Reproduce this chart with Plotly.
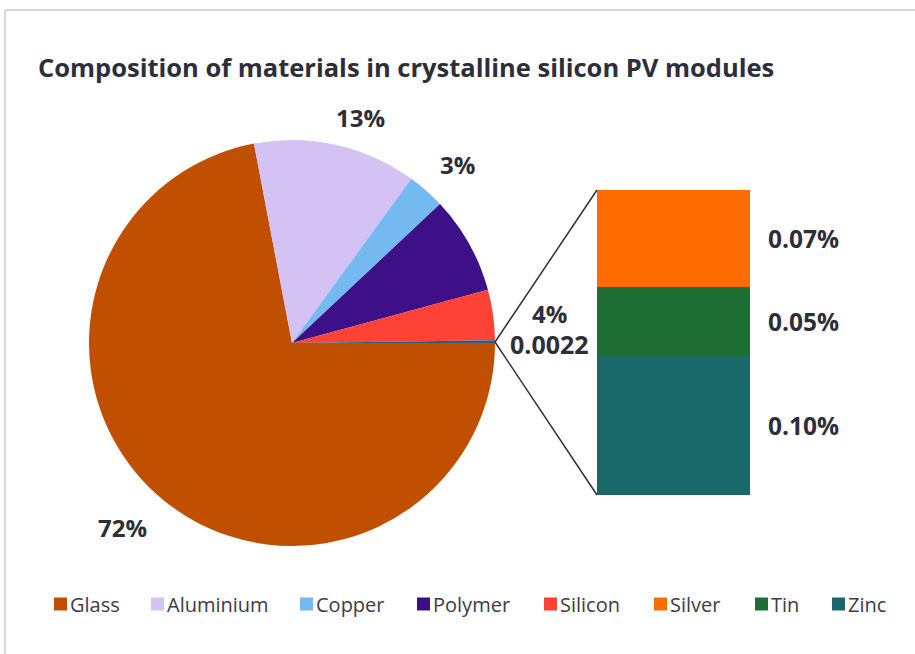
import plotly.graph_objects as go

# ---------------- data ----------------
pie_labels = ["Glass", "Aluminium", "Copper", "Polymer", "Silicon", "Other metals"]
pie_values = [72.0, 13.0, 3.0, 7.78, 4.0, 0.22]
pie_text = ["72%", "13%", "3%", "", "4%", "0.0022"]

bar_labels = ["Zinc", "Tin", "Silver"]          # bottom -> top
bar_values = [0.10, 0.05, 0.07]
bar_text = ["0.10%", "0.05%", "0.07%"]

legend_labels = ["Glass", "Aluminium", "Copper", "Polymer", "Silicon", "Silver", "Tin", "Zinc"]

title_text = "Composition of materials in crystalline silicon PV modules"

# ---------------- style ----------------
W, H = 915, 654
colors = {
    "Glass": "#C05000",
    "Aluminium": "#D5C2F5",
    "Copper": "#74B9F0",
    "Polymer": "#3D1087",
    "Silicon": "#FF4136",
    "Other metals": "#2B5D7E",
    "Silver": "#FF6D00",
    "Tin": "#1E6E35",
    "Zinc": "#1A6869",
}
TXT = "#2E2E38"
FONT = "Open Sans"


def px(x):
    return x / W


def py(y):
    return 1 - y / H


fig = go.Figure()

# pie (centre 292,343 radius 203 px)
cx, cy, r = 292, 343, 203
fig.add_trace(go.Pie(
    labels=pie_labels, values=pie_values,
    sort=False, direction="clockwise", rotation=90,
    marker=dict(colors=[colors[l] for l in pie_labels], line=dict(width=0)),
    textinfo="none", showlegend=False, hoverinfo="label+percent",
    domain=dict(x=[px(cx - r), px(cx + r)], y=[py(cy + r), py(cy - r)]),
))

# stacked bar (of-pie)
bx0, bx1, by0, by1 = 597, 750, 190, 495
for lab, val in zip(bar_labels, bar_values):
    fig.add_trace(go.Bar(
        x=["m"], y=[val], name=lab, width=1,
        marker=dict(color=colors[lab], line=dict(width=0)),
        showlegend=False, hoverinfo="name+y",
    ))

fig.update_layout(
    width=W, height=H, autosize=False,
    margin=dict(l=0, r=0, t=0, b=0),
    paper_bgcolor="white", plot_bgcolor="rgba(0,0,0,0)",
    barmode="stack", bargap=0,
    xaxis=dict(domain=[px(bx0), px(bx1)], range=[-0.5, 0.5], visible=False, fixedrange=True),
    yaxis=dict(domain=[py(by1), py(by0)], range=[0, sum(bar_values)], visible=False, fixedrange=True),
    font=dict(family=FONT, color=TXT),
)

annotations = []
shapes = []

# title
annotations.append(dict(
    text=f"<b>{title_text}</b>", x=px(36), y=py(67), xref="paper", yref="paper",
    xanchor="left", yanchor="middle", showarrow=False,
    font=dict(family=FONT, size=25.5, color=TXT),
))

# pie labels
pie_label_pos = [(122, 527), (360, 117), (458, 165), None, (549, 313), (549, 344)]
pie_label_size = [24, 24, 24, 24, 24, 25]
for t, pos, sz in zip(pie_text, pie_label_pos, pie_label_size):
    if not t or pos is None:
        continue
    annotations.append(dict(
        text=f"<b>{t}</b>", x=px(pos[0]), y=py(pos[1]), xref="paper", yref="paper",
        xanchor="center", yanchor="middle", showarrow=False,
        font=dict(family=FONT, size=sz, color=TXT),
    ))

# bar labels (data coords on y)
cum = 0
for t, v in zip(bar_text, bar_values):
    mid = cum + v / 2
    cum += v
    annotations.append(dict(
        text=f"<b>{t}</b>", x=px(766), y=mid, xref="paper", yref="y",
        xanchor="left", yanchor="middle", showarrow=False,
        font=dict(family=FONT, size=24.5, color=TXT),
    ))

# connector lines
for (x1, y1) in [(bx0, by0), (bx0, by1)]:
    shapes.append(dict(
        type="line", xref="paper", yref="paper",
        x0=px(cx + r), y0=py(cy - 1), x1=px(x1), y1=py(y1),
        line=dict(color=TXT, width=1.5),
    ))

# outer frame (top and left edges)
shapes.append(dict(type="line", xref="paper", yref="paper", x0=px(5), y0=py(10), x1=1.0, y1=py(10),
                   line=dict(color="#D8D8DF", width=2)))
shapes.append(dict(type="line", xref="paper", yref="paper", x0=px(5), y0=py(10), x1=px(5), y1=0.0,
                   line=dict(color="#D8D8DF", width=2)))

# manual legend
legend_x = [54, 151, 300, 417, 544, 654, 755, 832]
ly = 604
for lab, lx in zip(legend_labels, legend_x):
    shapes.append(dict(
        type="rect", xref="paper", yref="paper",
        x0=px(lx), x1=px(lx + 13), y0=py(ly + 6.5), y1=py(ly - 6.5),
        fillcolor=colors[lab], line=dict(width=0),
    ))
    annotations.append(dict(
        text=lab, x=px(lx + 14), y=py(ly), xref="paper", yref="paper",
        xanchor="left", yanchor="middle", showarrow=False,
        font=dict(family=FONT, size=20, color="#3C3C46"),
    ))

fig.update_layout(annotations=annotations, shapes=shapes)
fig.write_html(
    "out.html",
    config={"displayModeBar": False},
    post_script="document.body.style.margin='0';document.body.style.padding='0';"
                "document.body.style.overflow='hidden';",
)
